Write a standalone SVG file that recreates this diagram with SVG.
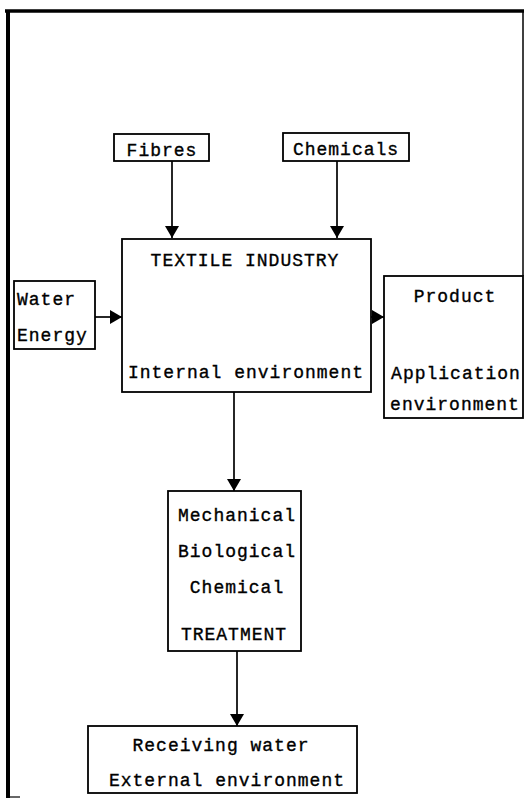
<svg xmlns="http://www.w3.org/2000/svg" width="528" height="800" viewBox="0 0 528 800">
<style>
.box{fill:none;stroke:#000;stroke-width:1.8}
.t{font-family:"Liberation Mono","DejaVu Sans Mono",monospace;font-size:18px;letter-spacing:1px;fill:#000;stroke:#000;stroke-width:0.35}
.c{text-anchor:middle}
.ln{stroke:#000;stroke-width:1.7;fill:none}
</style>
<defs>
<marker id="ah" viewBox="0 0 12 14" refX="12" refY="7" markerWidth="12" markerHeight="14" markerUnits="userSpaceOnUse" orient="auto">
<path d="M0,0 L12,7 L0,14 Z" fill="#000"/>
</marker>
</defs>
<rect width="528" height="800" fill="#fff"/>
<g id="frame">
<line x1="5" y1="11" x2="524" y2="11" stroke="#000" stroke-width="3.5"/>
<line x1="8" y1="10" x2="8" y2="798" stroke="#000" stroke-width="4"/>
<line x1="523" y1="10" x2="523" y2="276" stroke="#000" stroke-width="1.5"/>
<line x1="8" y1="797" x2="20" y2="797" stroke="#000" stroke-width="1.2"/>
</g>
<g id="connectors">
<line class="ln" x1="172" y1="161" x2="172" y2="238" marker-end="url(#ah)"/>
<line class="ln" x1="337" y1="161" x2="337" y2="238" marker-end="url(#ah)"/>
<line class="ln" x1="95" y1="317" x2="122" y2="317" marker-end="url(#ah)"/>
<line class="ln" x1="371" y1="317" x2="384" y2="317" marker-end="url(#ah)"/>
<line class="ln" x1="234" y1="392" x2="234" y2="491" marker-end="url(#ah)"/>
<line class="ln" x1="237" y1="651" x2="237" y2="726" marker-end="url(#ah)"/>
</g>
<g id="fibres">
<rect class="box" x="114" y="134" width="95" height="27"/>
<text class="t c" x="162" y="156">Fibres</text>
</g>
<g id="chemicals">
<rect class="box" x="283" y="133" width="126" height="28"/>
<text class="t c" x="346" y="155">Chemicals</text>
</g>
<g id="textile">
<rect class="box" x="122" y="239" width="249" height="153"/>
<text class="t c" x="245" y="266">TEXTILE INDUSTRY</text>
<text class="t c" x="246" y="378">Internal environment</text>
</g>
<g id="water">
<rect class="box" x="14" y="281" width="81" height="68"/>
<text class="t" x="17" y="305">Water</text>
<text class="t" x="17" y="341">Energy</text>
</g>
<g id="product">
<rect class="box" x="384" y="276" width="139" height="142"/>
<text class="t c" x="455" y="302">Product</text>
<text class="t c" x="456" y="379">Application</text>
<text class="t c" x="455" y="410">environment</text>
</g>
<g id="treatment">
<rect class="box" x="168" y="491" width="133" height="160"/>
<text class="t c" x="237" y="521">Mechanical</text>
<text class="t c" x="237" y="557">Biological</text>
<text class="t c" x="237" y="593">Chemical</text>
<text class="t c" x="234" y="640">TREATMENT</text>
</g>
<g id="receiving">
<rect class="box" x="88" y="726" width="269" height="67"/>
<text class="t c" x="221" y="751">Receiving water</text>
<text class="t c" x="227" y="786">External environment</text>
</g>
</svg>
